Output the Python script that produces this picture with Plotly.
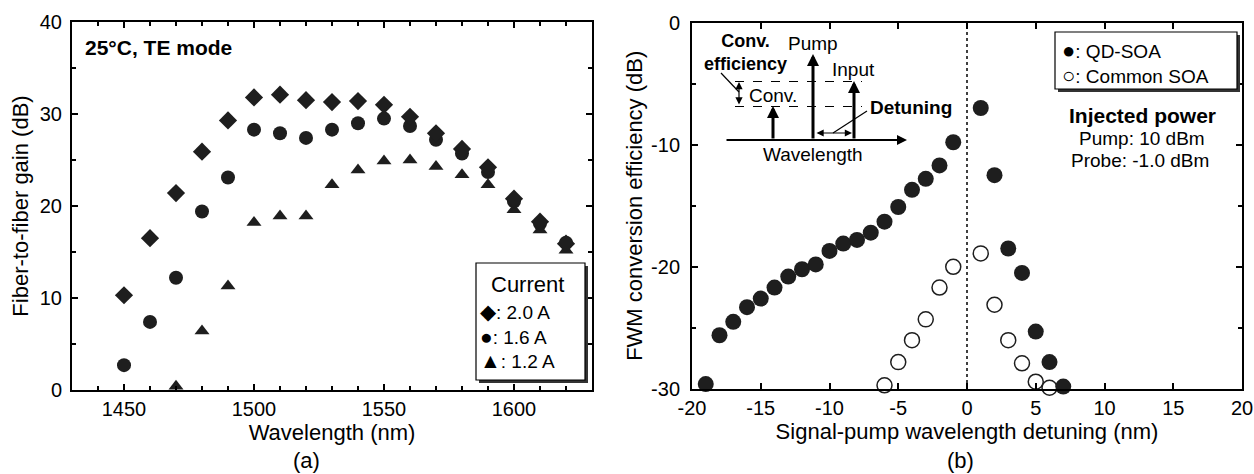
import plotly.graph_objects as go

# ---------------- data : panel (a) ----------------
wavelength_nm = [1450, 1460, 1470, 1480, 1490, 1500, 1510, 1520, 1530,
                 1540, 1550, 1560, 1570, 1580, 1590, 1600, 1610, 1620]
gain_2p0A = [10.3, 16.5, 21.4, 25.9, 29.3, 31.8, 32.1, 31.5, 31.3,
             31.4, 31.0, 29.7, 27.9, 26.2, 24.2, 20.8, 18.3, 15.9]
gain_1p6A = [2.7, 7.4, 12.2, 19.4, 23.1, 28.3, 27.9, 27.4, 28.3,
             29.0, 29.5, 28.7, 27.2, 25.7, 23.7, 20.5, 18.1, 16.0]
wavelength_1p2A_nm = [1470, 1480, 1490, 1500, 1510, 1520, 1530, 1540,
                      1550, 1560, 1570, 1580, 1590, 1600, 1610, 1620]
gain_1p2A = [0.4, 6.4, 11.3, 18.2, 18.9, 18.9, 22.3, 23.9,
             24.9, 25.0, 24.3, 23.4, 22.3, 19.6, 17.4, 15.2]

# ---------------- data : panel (b) ----------------
detuning_qd_nm = [-19, -18, -17, -16, -15, -14, -13, -12, -11, -10, -9, -8, -7,
                  -6, -5, -4, -3, -2, -1, 1, 2, 3, 4, 5, 6, 7]
fwm_qd_db = [-29.6, -25.6, -24.5, -23.3, -22.6, -21.7, -20.8, -20.2, -19.8,
             -18.7, -18.1, -17.8, -17.2, -16.3, -15.1, -13.7, -12.8, -11.7,
             -9.8, -7.0, -12.5, -18.5, -20.5, -25.3, -27.8, -29.8]
detuning_common_nm = [-6, -5, -4, -3, -2, -1, 1, 2, 3, 4, 5, 6]
fwm_common_db = [-29.7, -27.8, -26.0, -24.3, -21.7, -20.0,
                 -18.9, -23.1, -26.0, -27.9, -29.4, -29.9]

# tick values and labels
x1_ticks = [1450, 1500, 1550, 1600]
x1_labels = ["1450", "1500", "1550", "1600"]
y1_ticks = [0, 10, 20, 30, 40]
y1_labels = ["0", "10", "20", "30", "40"]
x2_ticks = [-20, -15, -10, -5, 0, 5, 10, 15, 20]
x2_labels = ["-20", "-15", "-10", "-5", "0", "5", "10", "15", "20"]
y2_ticks = [-30, -20, -10, 0]
y2_labels = ["-30", "-20", "-10", "0"]

# ---------------- layout helpers ----------------
W, H = 1254, 474
INK = "#1e1e1e"
FONT = "Arial, 'Liberation Sans', Helvetica, sans-serif"


def px(x):
    return x / W


def py(y):
    return 1 - y / H


fig = go.Figure()

# panel (a) traces
fig.add_trace(go.Scatter(x=wavelength_1p2A_nm, y=gain_1p2A, mode="markers", name="1.2 A",
                         marker=dict(symbol="triangle-up", size=13, color=INK),
                         xaxis="x", yaxis="y", cliponaxis=False, showlegend=False))
fig.add_trace(go.Scatter(x=wavelength_nm, y=gain_1p6A, mode="markers", name="1.6 A",
                         marker=dict(symbol="circle", size=14, color=INK),
                         xaxis="x", yaxis="y", cliponaxis=False, showlegend=False))
fig.add_trace(go.Scatter(x=wavelength_nm, y=gain_2p0A, mode="markers", name="2.0 A",
                         marker=dict(symbol="diamond", size=14, color=INK),
                         xaxis="x", yaxis="y", cliponaxis=False, showlegend=False))

# panel (b) traces
fig.add_trace(go.Scatter(x=detuning_common_nm, y=fwm_common_db, mode="markers", name="Common SOA",
                         marker=dict(symbol="circle", size=15, color="white",
                                     line=dict(color=INK, width=1.5)),
                         xaxis="x2", yaxis="y2", cliponaxis=False, showlegend=False))
fig.add_trace(go.Scatter(x=detuning_qd_nm, y=fwm_qd_db, mode="markers", name="QD-SOA",
                         marker=dict(symbol="circle", size=16, color=INK),
                         xaxis="x2", yaxis="y2", cliponaxis=False, showlegend=False))

axis_common = dict(showline=True, linecolor="black", linewidth=2, mirror="ticks",
                   ticks="inside", ticklen=6, tickwidth=1.5, tickcolor="black",
                   showgrid=False, zeroline=False, automargin=False,
                   tickfont=dict(size=20, color="black", family=FONT))
minor_common = dict(ticks="inside", ticklen=4, tickwidth=1.5, tickcolor="black", showgrid=False)

fig.update_layout(
    width=W, height=H,
    margin=dict(l=0, r=0, t=0, b=0, pad=0, autoexpand=False),
    paper_bgcolor="white", plot_bgcolor="white",
    font=dict(family=FONT, color="black"),
    xaxis=dict(domain=[px(72), px(592)], range=[1430, 1630], anchor="y",
               tickmode="array", tickvals=x1_ticks, ticktext=x1_labels, ticklabelstandoff=0,
               minor=dict(dtick=10, tick0=1430, **minor_common),
               title=dict(text="Wavelength (nm)", font=dict(size=22), standoff=3),
               **axis_common),
    yaxis=dict(domain=[py(390), py(22)], range=[0, 40], anchor="x",
               tickmode="array", tickvals=y1_ticks, ticktext=y1_labels, ticklabelstandoff=4,
               minor=dict(dtick=5, tick0=0, **minor_common),
               title=dict(text="Fiber-to-fiber gain (dB)", font=dict(size=22), standoff=5),
               **axis_common),
    xaxis2=dict(domain=[px(692), px(1242)], range=[-20, 20], anchor="y2",
                tickmode="array", tickvals=x2_ticks, ticktext=x2_labels, ticklabelstandoff=0,
                title=dict(text="Signal-pump wavelength detuning (nm)", font=dict(size=22), standoff=3),
                **axis_common),
    yaxis2=dict(domain=[py(389), py(22.5)], range=[-30, 0], anchor="x2",
                tickmode="array", tickvals=y2_ticks, ticktext=y2_labels, ticklabelstandoff=6,
                minor=dict(dtick=5, tick0=0, **minor_common),
                title=dict(text="FWM conversion efficiency (dB)", font=dict(size=22), standoff=2),
                **axis_common),
)

shapes = []
annots = []

# zero-detuning dotted line
shapes.append(dict(type="line", xref="x2", yref="y2", x0=0, x1=0, y0=-30, y1=0,
                   line=dict(color="black", width=1.5, dash="dot"), layer="below"))


def box_with_shadow(x0, y0, x1, y1):
    shapes.append(dict(type="rect", xref="paper", yref="paper",
                       x0=px(x0 + 3), x1=px(x1 + 3), y0=py(y1 + 3), y1=py(y0 + 3),
                       fillcolor="#333333", line=dict(width=0)))
    shapes.append(dict(type="rect", xref="paper", yref="paper",
                       x0=px(x0), x1=px(x1), y0=py(y1), y1=py(y0),
                       fillcolor="white", line=dict(color="black", width=1.2)))


def text(x, y, s, size=19, xanchor="center", bold=False, align="center"):
    if bold:
        s = "<b>" + s + "</b>"
    annots.append(dict(xref="paper", yref="paper", x=px(x), y=py(y), text=s,
                       showarrow=False, xanchor=xanchor, yanchor="middle", align=align,
                       font=dict(size=size, color="black", family=FONT)))


def line(x0, y0, x1, y1, width=1.2, dash="solid"):
    shapes.append(dict(type="line", xref="paper", yref="paper",
                       x0=px(x0), y0=py(y0), x1=px(x1), y1=py(y1),
                       line=dict(color="black", width=width, dash=dash)))


def arrow(xt, yt, xh, yh, width=3, size=0.9, both=False):
    annots.append(dict(xref="paper", yref="paper", x=px(xh), y=py(yh),
                       ax=xt - xh, ay=yt - yh, text="", showarrow=True,
                       arrowhead=2, arrowsize=size, arrowwidth=width,
                       arrowcolor="black", arrowside="end+start" if both else "end",
                       startarrowhead=2, startarrowsize=size, standoff=0, startstandoff=0))


# ---- panel (a) annotations
text(83, 47, "25°C, TE mode", size=21, xanchor="left", bold=True)
box_with_shadow(476, 263, 585, 380)
text(527, 284, "Current", size=22)
text(478, 336,
     '<span style="font-size:21px">◆</span>: 2.0 A<br>'
     '<span style="font-size:21px">●</span>: 1.6 A<br>'
     '<span style="font-size:21px">▲</span>: 1.2 A',
     size=19, xanchor="left", align="left")
text(306, 460, "(a)", size=22)

# ---- panel (b) annotations
text(960, 460, "(b)", size=22)
box_with_shadow(1055, 32, 1237, 89)
text(1060, 63,
     '<span style="font-size:22px">●</span>: QD-SOA<br>'
     '<span style="font-size:22px">○</span>: Common SOA',
     size=19, xanchor="left", align="left")
text(1142, 115, "Injected power", size=21, bold=True)
text(1142, 138, "Pump: 10 dBm", size=19)
text(1140, 161, "Probe: -1.0 dBm", size=19)

# ---- inset schematic (panel b)
arrow(725, 140, 907, 140, width=2, size=1.0)          # wavelength axis
arrow(813, 140, 813, 54, width=3, size=0.8)           # pump
arrow(854, 140, 854, 81, width=3, size=0.8)           # input
arrow(773, 140, 773, 106, width=3, size=0.8)          # converted
line(735, 81.5, 862, 81.5, width=1, dash="dash")
line(735, 106.5, 862, 106.5, width=1, dash="dash")
arrow(739, 106, 739, 82, width=1.2, size=1.2, both=True)   # efficiency span
arrow(815, 133, 852, 133, width=1.2, size=1.2, both=True)  # detuning span
line(721, 73, 739, 92, width=1.2)
line(867, 111, 833, 133, width=1.2)
text(745, 52, "Conv.<br>efficiency", size=18, bold=True)
text(813, 43, "Pump", size=19)
text(853, 69, "Input", size=19)
text(773, 95, "Conv.", size=19)
text(813, 154, "Wavelength", size=19)
text(911, 107, "Detuning", size=19, bold=True)

fig.update_layout(shapes=shapes, annotations=annots)
fig.write_html("out.html", config={"displayModeBar": False},
               post_script="document.body.style.margin='0';document.body.style.overflow='hidden';")
